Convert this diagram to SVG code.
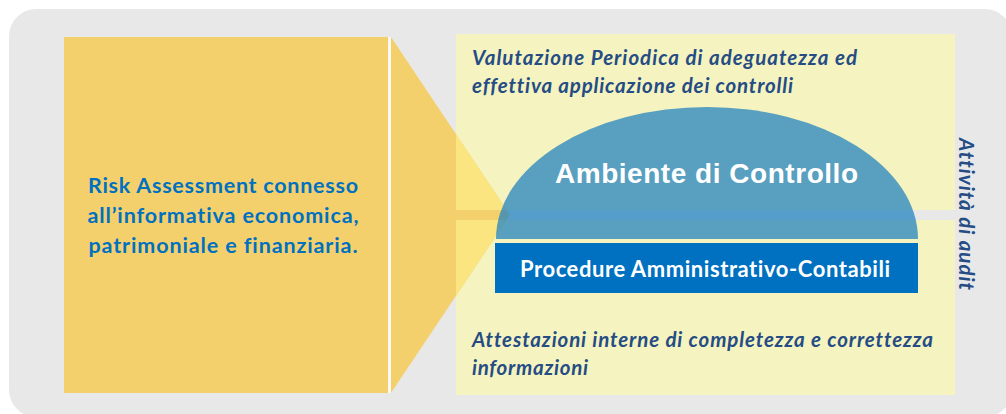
<svg xmlns="http://www.w3.org/2000/svg" width="1006" height="414" viewBox="0 0 1006 414">
<style>
text{font-variant-ligatures:none;font-feature-settings:"liga" 0,"dlig" 0}
.it{font-family:Lato,"Open Sans","Liberation Sans",sans-serif;font-style:italic;font-weight:700;font-size:20.5px;fill:#254C84}
.lt{font-family:Lato,"Open Sans","Liberation Sans",sans-serif;font-weight:700;font-size:21.5px;fill:#0070C0}
.amb{font-family:"Liberation Sans",Arial,sans-serif;font-weight:700;font-size:28px;fill:#FFFFFF}
.proc{font-family:Lato,"Open Sans","Liberation Sans",sans-serif;font-weight:700;font-size:22px;fill:#FFFFFF}
.ly{fill:#F5F4C0}
</style>
<defs>
<clipPath id="yl">
<rect x="456" y="34" width="499" height="176"/>
<rect x="456" y="220" width="499" height="175"/>
</clipPath>
</defs>
<rect x="0" y="0" width="1006" height="414" fill="#FFFFFF"/>
<rect x="9" y="9" width="1003" height="408" rx="27" ry="27" fill="#E8E8E8"/>
<g id="ambito">
<rect class="ly" x="456" y="34" width="499" height="176"/>
<rect class="ly" x="456" y="220" width="499" height="175"/>
</g>
<g id="risk">
<rect x="64" y="37" width="324" height="356" fill="#F4D06C"/>
<rect x="388" y="37" width="3" height="356" fill="#F8F8F8"/>
<text class="lt" x="223" y="193" text-anchor="middle" textLength="270">Risk Assessment connesso</text>
<text class="lt" x="223" y="223" text-anchor="middle" textLength="271">all’informativa economica,</text>
<text class="lt" x="223" y="253" text-anchor="middle" textLength="269">patrimoniale e finanziaria.</text>
</g>
<g id="connectors">
<polygon points="391,37 510,215 391,393" fill="#F4D06C"/>
<polygon points="391,37 510,215 391,393" fill="#FBE581" clip-path="url(#yl)"/>
</g>
<g id="ambiente">
<path d="M496,239 A211,132 0 0 1 918,239 Z" fill="#2484C0" fill-opacity="0.75"/>
<text class="amb" x="706.5" y="183" text-anchor="middle" textLength="303">Ambiente di Controllo</text>
</g>
<g id="procedure">
<rect x="495" y="243" width="423" height="50" fill="#0070C0"/>
<text class="proc" x="705" y="277" text-anchor="middle" textLength="370">Procedure Amministrativo-Contabili</text>
</g>
<g id="valutazione">
<text class="it" x="472" y="65" textLength="385">Valutazione Periodica di adeguatezza ed</text>
<text class="it" x="472" y="93" textLength="321">effettiva applicazione dei controlli</text>
</g>
<g id="attestazioni">
<text class="it" x="472" y="347" textLength="461">Attestazioni interne di completezza e correttezza</text>
<text class="it" x="472" y="375" textLength="116">informazioni</text>
</g>
<g id="audit">
<text class="it" transform="translate(959,214) rotate(90)" x="0" y="0" text-anchor="middle" textLength="152">Attività di audit</text>
</g>
</svg>
